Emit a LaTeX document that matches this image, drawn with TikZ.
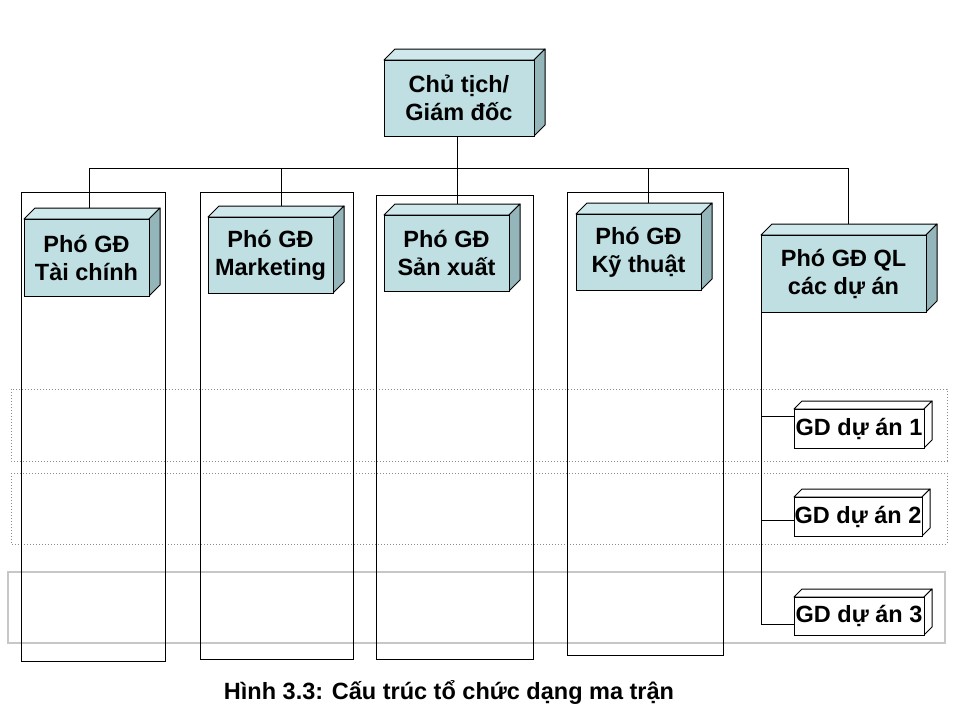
\documentclass[tikz,border=0pt]{standalone}
\usepackage{fontspec}
\setmainfont{Liberation Sans}
\definecolor{tealF}{HTML}{BFDFE3}
\definecolor{tealT}{HTML}{CFE8EB}
\definecolor{tealS}{HTML}{94B6BB}
\newcommand\boxfont{\fontsize{23.5}{28}\selectfont\bfseries}
\newcommand\cubebox[8]{%
  \filldraw[#7top] (#2,#3) -- ({#2+#6},{#3-#6}) -- ({#4+#6},{#3-#6}) -- (#4,#3) -- cycle;
  \filldraw[#7side] (#4,#3) -- ({#4+#6},{#3-#6}) -- ({#4+#6},{#5-#6}) -- (#4,#5) -- cycle;
  \node[#7front, minimum width={(#4-#2)*1pt}, minimum height={(#5-#3)*1pt}] (#1) at ({(#2+#4)/2},{(#3+#5)/2}) {};
  \node[boxtext] (#1-text) at (#1.center) {#8};
  \coordinate (#1-back) at ({(#2+#4)/2+#6/2},{#3-#6});
}
\tikzset{
  line/.style={draw=black, line width=1pt},
  column/.style={draw=black, line width=0.9pt},
  rowband/.style={draw=black!45, dotted, line width=1pt},
  rowbandlight/.style={draw=black!22, line width=1.6pt},
  tealfront/.style={draw=black, fill=tealF, line width=1pt, inner sep=0pt, outer sep=0pt},
  tealtop/.style={draw=black, fill=tealT, line width=1pt, line join=round},
  tealside/.style={draw=black, fill=tealS, line width=1pt, line join=round},
  whitefront/.style={draw=black, fill=white, line width=1pt, inner sep=0pt, outer sep=0pt},
  whitetop/.style={draw=black, fill=white, line width=1pt, line join=round},
  whiteside/.style={draw=black, fill=white, line width=1pt, line join=round},
  boxtext/.style={align=center, font=\boxfont, inner sep=0pt},
}
\begin{document}
\begin{tikzpicture}[x=1pt, y=-1pt]
\useasboundingbox (0,0) rectangle (960,720);
\fill[white] (0,0) rectangle (960,720);
% project row bands
\draw[rowband] (11,389) rectangle (947,461);
\draw[rowband] (11,473) rectangle (947,544);
\draw[rowbandlight] (8,572) rectangle (945,643);
% function columns
\draw[column] (21,192) rectangle (165,661);
\draw[column] (200,192) rectangle (353,659);
\draw[column] (376,195) rectangle (533,659);
\draw[column] (567,192) rectangle (723,655);
% boxes
\cubebox{ct}{384}{60}{534}{136}{11}{teal}{Chủ tịch/\\Giám đốc}
\cubebox{tc}{24}{219}{149}{296}{11}{teal}{Phó GĐ\\Tài chính}
\cubebox{mk}{208}{217}{333}{293}{11}{teal}{Phó GĐ\\Marketing}
\cubebox{sx}{384}{215}{509}{291}{11}{teal}{Phó GĐ\\Sản xuất}
\cubebox{kt}{576}{214}{701}{290}{11}{teal}{Phó GĐ\\Kỹ thuật}
\cubebox{ql}{761}{235}{926}{312}{11}{teal}{Phó GĐ QL\\các dự án}
\cubebox{gd1}{794}{409}{924}{448}{8}{white}{GD dự án 1}
\cubebox{gd2}{794}{497}{922}{536}{8}{white}{GD dự án 2}
\cubebox{gd3}{794}{597}{924}{635}{8}{white}{GD dự án 3}
% connectors
\coordinate (ctdown) at (457,136);
\coordinate (barL) at (89,168);
\coordinate (barM) at (281,168);
\coordinate (barC) at (457,168);
\coordinate (barK) at (648,168);
\coordinate (barR) at (848,168);
\draw[line] (ctdown) -- (barC);
\draw[line] (barL) -- (barR);
\draw[line] (barL) -- (barL |- tc-back);
\draw[line] (barM) -- (barM |- mk-back);
\draw[line] (barC) -- (barC |- sx-back);
\draw[line] (barK) -- (barK |- kt-back);
\draw[line] (barR) -- (barR |- ql-back);
\coordinate (b1) at (761,416);
\coordinate (b2) at (761,520);
\coordinate (b3) at (761,624);
\draw[line] (ql.south west) -- (b3);
\draw[line] (b1) -- (b1 -| gd1.west);
\draw[line] (b2) -- (b2 -| gd2.west);
\draw[line] (b3) -- (b3 -| gd3.west);
% caption
\node[boxtext] (cap) at (449,692) {Hình 3.3: Cấu trúc tổ chức dạng ma trận};
\end{tikzpicture}
\end{document}
